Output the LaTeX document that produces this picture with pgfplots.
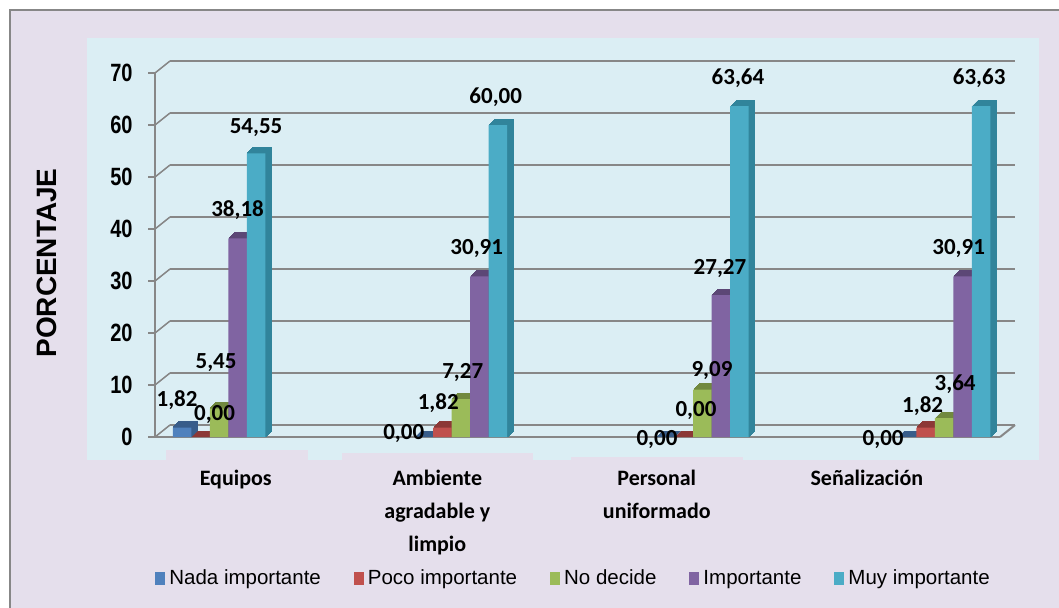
\documentclass[border=0pt]{standalone}
\usepackage{pgfplots}
\usepackage{pgfplotstable}
\pgfplotsset{compat=1.18}
\usepackage{fontspec}
\setmainfont{Liberation Sans}
\newfontfamily\carlito{Carlito}
\newfontfamily\arialnarrow[FakeStretch=0.8]{Liberation Sans}
\definecolor{lav}{HTML}{E5DFEC}
\definecolor{cyanbg}{HTML}{DBEEF4}
\definecolor{gline}{HTML}{878787}
\definecolor{cNada}{HTML}{4F81BD}
\definecolor{dNada}{HTML}{385D8A}
\definecolor{cPoco}{HTML}{C0504D}
\definecolor{dPoco}{HTML}{8C3836}
\definecolor{cNoDe}{HTML}{9BBB59}
\definecolor{dNoDe}{HTML}{71893F}
\definecolor{cImpo}{HTML}{8064A2}
\definecolor{dImpo}{HTML}{5C4776}
\definecolor{cMuy}{HTML}{4BACC6}
\definecolor{dMuy}{HTML}{31849B}

% x = category, y = percentage, dx/dy = label offset (pt)
\pgfplotstableread{
x y dx dy
0 1.82 -2.5 13.75
1 0.00 -10 1.5
2 0.00 -4.25 -1.5
3 0.00 -12 -1.5
}\nada
\pgfplotstableread{
x y dx dy
0 0.00 7 11
1 1.82 -2 12.25
2 0.00 6 13
3 1.82 -1.5 10.75
}\poco
\pgfplotstableread{
x y dx dy
0 5.45 -1.5 23
1 7.27 1 13.5
2 9.09 4.75 9.5
3 3.64 5.5 17
}\nodec
\pgfplotstableread{
x y dx dy
0 38.18 0 14.25
1 30.91 -1.25 14
2 27.27 -0.5 13.5
3 30.91 -2 14
}\impo
\pgfplotstableread{
x y dx dy
0 54.55 0 13
1 60.00 -1 14
2 63.64 -0.75 14
3 63.63 -1 14
}\muy

\pgfplotsset{
  dark/.style={ybar, bar width=9.25pt, fill=#1, draw=#1, line width=0.4pt, forget plot},
  front/.style 2 args={ybar, bar width=9.25pt, bar shift=#2, fill=#1, draw=none, forget plot,
    nodes near coords={\pgfmathprintnumber[fixed,fixed zerofill,precision=2,use comma]{\pgfplotspointmeta}},
    visualization depends on={\thisrow{dx}\as\dx},
    visualization depends on={\thisrow{dy}\as\dy},
    every node near coord/.append style={anchor=center, xshift=#2, xshift=\dx pt, yshift=\dy pt,
      font=\carlito\bfseries\fontsize{11.5}{13}\selectfont, text=black, inner sep=0pt}},
}

\begin{document}
\begin{tikzpicture}
\useasboundingbox (0,0) rectangle (529.5pt,303.5pt);
\fill[white] (0,0) rectangle (529.5pt,303.5pt);
\fill[lav] (5pt,-5pt) rectangle (535pt,298.5pt);
\draw[gline, line width=1pt] (5pt,-5pt) -- (5pt,298.5pt) -- (535pt,298.5pt);
\fill[cyanbg] (43.5pt,73.5pt) rectangle (519.5pt,284.5pt);
\fill[lav] (83pt,70pt) rectangle (154pt,78.5pt);
\fill[lav] (171pt,70pt) rectangle (266.5pt,77pt);
\fill[lav] (285.5pt,70pt) rectangle (371.5pt,75pt);
\node[rotate=90, font=\bfseries\fontsize{14}{16}\selectfont] at (23.5pt,172pt) {PORCENTAJE};
\begin{axis}[
  at={(77.5pt,85pt)}, anchor=south west,
  scale only axis, width=422.5pt, height=182pt,
  xmin=-0.265, xmax=3.231, ymin=0, ymax=70,
  clip=false,
  axis x line*=bottom, axis y line*=left,
  axis line style={gline, line width=0.75pt, -},
  x axis line style={line width=1pt},
  tick align=outside, major tick length=3.5pt,
  xtick={0.069,0.903,1.811,2.680},
  xticklabels={Equipos,{Ambiente\\agradable y\\limpio},{Personal\\uniformado},Señalización},
  xtick style={draw=none},
  ytick={0,10,...,70},
  ytick style={gline, line width=0.75pt},
  ymajorgrids,
  major grid style={gline, line width=0.75pt, xshift=7.5pt, yshift=6pt},
  /pgf/number format/assume math mode=true,
  yticklabel style={font=\arialnarrow\bfseries\fontsize{12.5}{14}\selectfont, inner sep=0pt, xshift=-7.5pt},
  xticklabel style={font=\carlito\bfseries\fontsize{11}{16.5}\selectfont, align=center, anchor=north, inner sep=0pt, yshift=-13pt},
  legend image code/.code={\fill[#1] (0pt,-3.25pt) rectangle (5pt,3.25pt);},
  legend style={at={(0.4965,-0.390)}, anchor=center, draw=none, fill=none,
    font=\fontsize{10.25}{12}\selectfont, legend columns=5,
    /tikz/every even column/.append style={column sep=14.5pt}},
]
\pgfplotsinvokeforeach{0.5,1.0,1.5,2.0,2.5,3.0}{
\addplot[dark=dNada, bar shift=-18.5pt, xshift=#1pt, yshift=#1pt] table[x=x,y=y] {\nada};
\addplot[dark=dPoco, bar shift=-9.25pt, xshift=#1pt, yshift=#1pt] table[x=x,y=y] {\poco};
\addplot[dark=dNoDe, bar shift=0pt, xshift=#1pt, yshift=#1pt] table[x=x,y=y] {\nodec};
\addplot[dark=dImpo, bar shift=9.25pt, xshift=#1pt, yshift=#1pt] table[x=x,y=y] {\impo};
\addplot[dark=dMuy, bar shift=18.5pt, xshift=#1pt, yshift=#1pt] table[x=x,y=y] {\muy};
}
\addplot[front={cNada}{-18.5pt}] table[x=x,y=y] {\nada};
\addplot[front={cPoco}{-9.25pt}] table[x=x,y=y] {\poco};
\addplot[front={cNoDe}{0pt}] table[x=x,y=y] {\nodec};
\addplot[front={cImpo}{9.25pt}] table[x=x,y=y] {\impo};
\addplot[front={cMuy}{18.5pt}] table[x=x,y=y] {\muy};
\addlegendimage{fill=cNada, draw=none}\addlegendentry{Nada importante}
\addlegendimage{fill=cPoco, draw=none}\addlegendentry{Poco importante}
\addlegendimage{fill=cNoDe, draw=none}\addlegendentry{No decide}
\addlegendimage{fill=cImpo, draw=none}\addlegendentry{Importante}
\addlegendimage{fill=cMuy, draw=none}\addlegendentry{Muy importante}
\end{axis}
\foreach \v in {0,10,...,70} {
  \draw[gline, line width=0.75pt] (77.5pt,{85pt+2.6pt*\v}) -- ++(7.5pt,6pt);
}
\draw[gline, line width=1pt] (500pt,85pt) -- ++(7.5pt,6pt);
\end{tikzpicture}
\end{document}
